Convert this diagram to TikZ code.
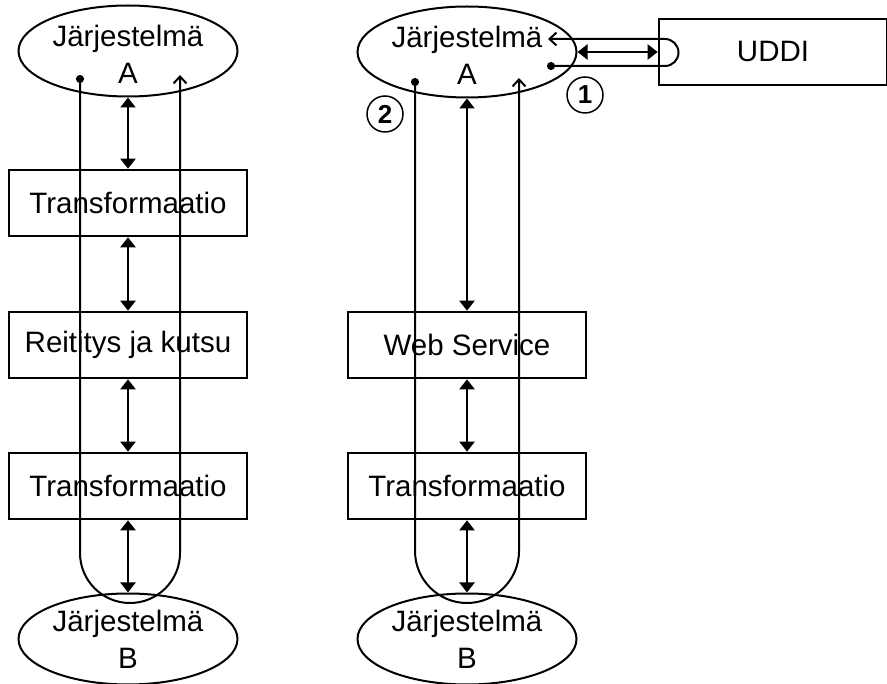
\documentclass[tikz,border=0pt]{standalone}
\usepackage{fontspec}
\setmainfont{Liberation Sans}
\usetikzlibrary{shapes.geometric,arrows.meta}
\begin{document}
\begin{tikzpicture}[x=1pt,y=-1pt,
        sys/.style={ellipse,draw,line width=2pt,minimum width=219pt,minimum height=91pt,inner sep=0pt},
        sysname/.style={align=center,font=\fontsize{29.5}{37}\selectfont},
        comp/.style={rectangle,draw,line width=2.6pt,minimum width=238pt,minimum height=66pt,font=\fontsize{29.5}{36}\selectfont},
        num/.style={circle,draw,line width=1.5pt,minimum size=36pt,inner sep=0pt,font=\fontsize{26}{26}\selectfont\bfseries},
        call/.style={{Triangle[length=10pt,width=15pt]}-{Triangle[length=10pt,width=15pt]},line width=2.2pt},
        trip/.style={{Circle[length=8pt]}-{Straight Barb[length=7pt,width=13pt]},line width=2pt}
        ]
        \useasboundingbox (0,0) rectangle (887,684);
        \node (eA) [sys,label={[sysname,yshift=-3pt]center:Järjestelmä\\A}] at (128,51) {};
        \node (t1) [comp] at (128,203) {Transformaatio};
        \node (r1) [comp] at (128,345) {Reititys ja kutsu};
        \node (t2) [comp] at (128,486) {Transformaatio};
        \node (eB) [sys,label={[sysname]center:Järjestelmä\\B}] at (128,639) {};
        \draw[call] (eA) -- (t1);
        \draw[call] (t1) -- (r1);
        \draw[call] (r1) -- (t2);
        \draw[call] (t2) -- (eB);
        \coordinate (dA) at (80,75);
        \coordinate (hA) at (180,75);
        \draw[trip] (dA) -- (80,553) arc[start angle=180,end angle=360,radius=50pt] -- (hA);

        \node (eA2) [sys,label={[sysname,yshift=-3pt]center:Järjestelmä\\A}] at (467,52) {};
        \node (ws) [comp] at (467,345) {Web Service};
        \node (t3) [comp] at (467,486) {Transformaatio};
        \node (eB2) [sys,label={[sysname]center:Järjestelmä\\B}] at (467,639) {};
        \node (uddi) [comp,minimum width=228pt] at (773,52) {UDDI};
        \draw[call] (eA2) -- (ws);
        \draw[call] (ws) -- (t3);
        \draw[call] (t3) -- (eB2);
        \draw[call] (eA2) -- (uddi);
        \coordinate (dA2) at (415,78);
        \coordinate (hA2) at (519,78);
        \draw[trip] (dA2) -- (415,551) arc[start angle=180,end angle=360,radius=52pt] -- (hA2);
        \coordinate (dU) at (547,66);
        \coordinate (hU) at (548,39);
        \draw[trip] (dU) -- (665,66) arc[start angle=-90,end angle=90,radius=13.5pt] -- (hU);
        \node (n2) [num] at (385,114) {2};
        \node (n1) [num] at (585,95) {1};
\end{tikzpicture}
\end{document}
